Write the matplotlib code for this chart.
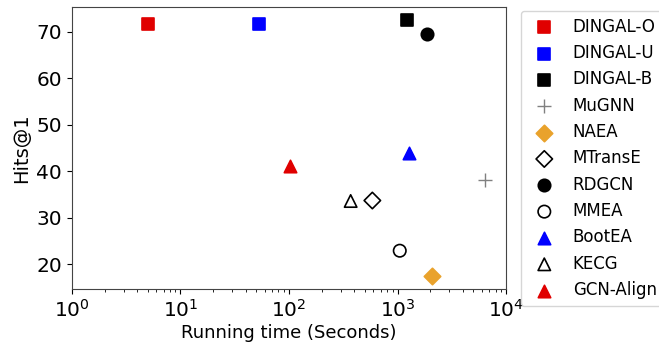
import matplotlib

matplotlib.use("Agg")
import matplotlib.pyplot as plt

# method names, running time (s), Hits@1
methods = ["DINGAL-O", "DINGAL-U", "DINGAL-B", "MuGNN", "NAEA", "MTransE",
           "RDGCN", "MMEA", "BootEA", "KECG", "GCN-Align"]
run_time = [5.05, 52.8, 1216, 6450, 2096, 586, 1860, 1048, 1265, 370, 102]
hits1 = [71.6, 71.6, 72.6, 38.1, 17.4, 33.7, 69.6, 22.9, 43.9, 33.6, 41.2]

RED, BLUE, ORANGE = "#e00000", "#0000ff", "#e9a22c"
styles = [
    dict(marker="s", color=RED),
    dict(marker="s", color=BLUE),
    dict(marker="s", color="black"),
    dict(marker="+", color="gray"),
    dict(marker="D", color=ORANGE),
    dict(marker="D", color="black", facecolor="none"),
    dict(marker="o", color="black"),
    dict(marker="o", color="black", facecolor="none"),
    dict(marker="^", color=BLUE),
    dict(marker="^", color="black", facecolor="none"),
    dict(marker="^", color=RED),
]

fig = plt.figure(figsize=(6.59, 3.45), dpi=100)
ax = fig.add_axes([0.109, 0.162, 0.659, 0.818])

for name, x, y, st in zip(methods, run_time, hits1, styles):
    fc = st.get("facecolor", st["color"])
    if st["marker"] == "+":
        ax.scatter(x, y, marker="+", c=st["color"], s=90, linewidths=1.0, label=name)
    else:
        size = 80 if st["marker"] != "D" else 70
        ax.scatter(x, y, marker=st["marker"], facecolors=fc, edgecolors=st["color"],
                   s=size, linewidths=1.2, label=name)

ax.set_xscale("log")
ax.set_xlim(1, 1e4)
ax.set_yticks([20, 30, 40, 50, 60, 70])
ax.tick_params(labelsize=14.5)
ax.set_xlabel("Running time (Seconds)", fontsize=13, labelpad=2)
ax.set_ylabel("Hits@1", fontsize=14)
for s in ax.spines.values():
    s.set_color("#444444")

ax.legend(loc="upper left", bbox_to_anchor=(1.015, 1.015), fontsize=12,
          handletextpad=0.7, borderpad=0.4, labelspacing=0.5, scatterpoints=1)

fig.savefig("out.png", dpi=100, facecolor="white")
